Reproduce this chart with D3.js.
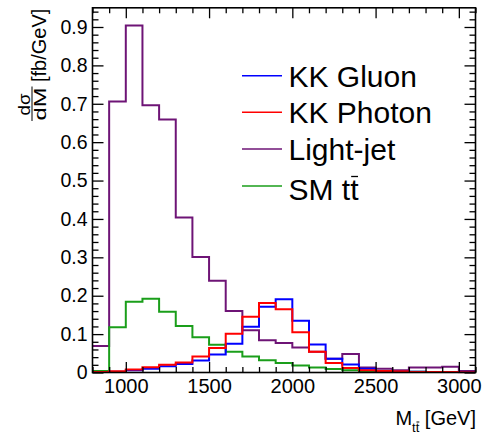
<!DOCTYPE html>
<html>
<head>
<meta charset="utf-8">
<title>Mtt distribution</title>
<script src="https://cdn.jsdelivr.net/npm/d3@7"></script>
<style>
* { margin: 0; padding: 0; }
body { background: #fff; }
svg { display: block; }
text { font-family: "Liberation Sans", Arial, Helvetica, sans-serif; fill: #000; }
.axis path.domain { display: none; }
.axis line { stroke: #000; stroke-width: 1.3; }
</style>
</head>
<body>
<div id="chart"></div>
<script>
// bin edges of the histograms [GeV]
var binEdges = [800, 900, 1000, 1100, 1200, 1300, 1400, 1500, 1600, 1700, 1800, 1900,
                2000, 2100, 2200, 2300, 2400, 2500, 2600, 2700, 2800, 2900, 3000, 3100];

// dsigma/dM [fb/GeV], one value per bin
var lightJet = [0.069, 0.706, 0.904, 0.696, 0.659, 0.404, 0.301, 0.239, 0.160, 0.110, 0.084, 0.077,
                0.065, 0.054, 0.036, 0.048, 0.013, 0.010, 0.006, 0.013, 0.013, 0.015, 0.004];
var smTT     = [0.004, 0.118, 0.184, 0.192, 0.158, 0.121, 0.092, 0.072, 0.054, 0.042, 0.032, 0.025,
                0.018, 0.013, 0.009, 0.006, 0.004, 0.003, 0.002, 0.002, 0.001, 0.001, 0.001];
var kkGluon  = [0.001, 0.002, 0.006, 0.010, 0.016, 0.022, 0.031, 0.047, 0.075, 0.119, 0.171, 0.191,
                0.135, 0.073, 0.036, 0.021, 0.010, 0.004, 0.003, 0.002, 0.001, 0.001, 0.001];
var kkPhoton = [0.001, 0.003, 0.008, 0.014, 0.020, 0.026, 0.042, 0.064, 0.101, 0.145, 0.181, 0.165,
                0.105, 0.054, 0.025, 0.012, 0.006, 0.004, 0.003, 0.001, 0.001, 0.001, 0.0005];

var seriesNames = ["Light-jet", "SM tt", "KK Gluon", "KK Photon"];   // drawing order
var legendOrder = ["KK Gluon", "KK Photon", "Light-jet", "SM tt"];

var xMajorTicks = [1000, 1500, 2000, 2500, 3000];
var yMajorTicks = [0, 0.1, 0.2, 0.3, 0.4, 0.5, 0.6, 0.7, 0.8, 0.9];

window.onload = function() {
  var W = 485, H = 437;
  var left = 92.5, right = 475.5, top = 7.8, bottom = 372.5;

  var colors = {
    "KK Gluon": "#0000ff",
    "KK Photon": "#ff0000",
    "Light-jet": "#6e1476",
    "SM tt": "#1a9e1a"
  };
  var values = {
    "KK Gluon": kkGluon,
    "KK Photon": kkPhoton,
    "Light-jet": lightJet,
    "SM tt": smTT
  };

  var svg = d3.select("#chart").append("svg")
    .attr("width", W).attr("height", H);

  svg.append("rect").attr("width", W).attr("height", H).attr("fill", "#fff");

  var x = d3.scaleLinear().domain([800, 3100]).range([left, right]);
  var y = d3.scaleLinear().domain([0, 0.95]).range([bottom, top]);

  // minor tick positions come from the scale (every 100 GeV, every 0.02)
  var xMinor = d3.range(800, 3101, 100).filter(function(v) { return xMajorTicks.indexOf(v) == -1; });
  var yMinor = d3.range(0, 48).map(function(i) { return +(i * 0.02).toFixed(2); })
                 .filter(function(v) { return Math.abs(v * 10 - Math.round(v * 10)) > 1e-6; });

  // histograms
  var line = d3.line().x(function(d) { return x(d[0]); }).y(function(d) { return y(d[1]); });
  var plot = svg.append("g").attr("clip-path", "url(#clip)");
  svg.append("clipPath").attr("id", "clip").append("rect")
    .attr("x", left).attr("y", top).attr("width", right - left).attr("height", bottom - top + 1);

  seriesNames.forEach(function(name) {
    var pts = [];
    values[name].forEach(function(v, i) {
      pts.push([binEdges[i], v]);
      pts.push([binEdges[i + 1], v]);
    });
    plot.append("path")
      .attr("d", line(pts))
      .attr("fill", "none")
      .attr("stroke", colors[name])
      .attr("stroke-width", 2);
  });

  // axes, ticks inside on all four sides
  function fmtY(d) { return d == 0 ? "0" : d3.format(".1f")(d); }

  svg.append("g").attr("class", "axis")
    .attr("transform", "translate(0," + bottom + ")")
    .call(d3.axisBottom(x).tickValues(xMajorTicks).tickSize(-10.5).tickPadding(6).tickFormat(d3.format("d")))
    .call(function(g) { g.selectAll("text").attr("font-size", 20).attr("font-family", null); });
  svg.append("g").attr("class", "axis")
    .attr("transform", "translate(0," + bottom + ")")
    .call(d3.axisBottom(x).tickValues(xMinor).tickSize(-5.5).tickFormat(""));
  svg.append("g").attr("class", "axis")
    .attr("transform", "translate(0," + top + ")")
    .call(d3.axisTop(x).tickValues(xMajorTicks).tickSize(-10.5).tickFormat(""));
  svg.append("g").attr("class", "axis")
    .attr("transform", "translate(0," + top + ")")
    .call(d3.axisTop(x).tickValues(xMinor).tickSize(-5.5).tickFormat(""));

  svg.append("g").attr("class", "axis")
    .attr("transform", "translate(" + left + ",0)")
    .call(d3.axisLeft(y).tickValues(yMajorTicks).tickSize(-11).tickPadding(5).tickFormat(fmtY))
    .call(function(g) { g.selectAll("text").attr("font-size", 19.5).attr("font-family", null); });
  svg.append("g").attr("class", "axis")
    .attr("transform", "translate(" + left + ",0)")
    .call(d3.axisLeft(y).tickValues(yMinor).tickSize(-6).tickFormat(""));
  svg.append("g").attr("class", "axis")
    .attr("transform", "translate(" + right + ",0)")
    .call(d3.axisRight(y).tickValues(yMajorTicks).tickSize(-11).tickFormat(""));
  svg.append("g").attr("class", "axis")
    .attr("transform", "translate(" + right + ",0)")
    .call(d3.axisRight(y).tickValues(yMinor).tickSize(-6).tickFormat(""));

  // frame
  svg.append("rect")
    .attr("x", left).attr("y", top)
    .attr("width", right - left).attr("height", bottom - top)
    .attr("fill", "none").attr("stroke", "#000").attr("stroke-width", 1.6);

  // legend
  var legY = [75.7, 112.3, 149, 186];
  var legBase = [86.7, 123.3, 160, 200];
  legendOrder.forEach(function(name, i) {
    svg.append("line")
      .attr("x1", 242).attr("x2", 282)
      .attr("y1", legY[i]).attr("y2", legY[i])
      .attr("stroke", colors[name]).attr("stroke-width", 1.4);
    var t = svg.append("text")
      .attr("x", 288.5).attr("y", legBase[i])
      .attr("font-size", 30)
      .text(name);
    if (name == "SM tt") {
      var ext = t.node().getExtentOfChar(4);
      svg.append("line")
        .attr("x1", ext.x + 1).attr("x2", ext.x + ext.width - 0.5)
        .attr("y1", 176.5).attr("y2", 176.5)
        .attr("stroke", "#000").attr("stroke-width", 1.3);
    }
  });

  // x title: M_{t tbar} [GeV]
  var xt = svg.append("text")
    .attr("x", 476).attr("y", 425)
    .attr("text-anchor", "end")
    .attr("font-size", 20);
  xt.append("tspan").text("M");
  xt.append("tspan").attr("font-size", 13).attr("dy", 7).text("tt");
  xt.append("tspan").attr("dy", -7).text(" [GeV]");
  var ex = xt.node().getExtentOfChar(2);
  svg.append("line")
    .attr("x1", ex.x + 0.8).attr("x2", ex.x + ex.width)
    .attr("y1", 422).attr("y2", 422)
    .attr("stroke", "#000").attr("stroke-width", 1);

  // y title: dsigma/dM [fb/GeV]
  svg.append("text")
    .attr("transform", "translate(45.5,82) rotate(-90)")
    .attr("font-size", 20)
    .text("[fb/GeV]");
  svg.append("text")
    .attr("transform", "translate(30,104.5) rotate(-90)")
    .attr("text-anchor", "middle")
    .attr("font-size", 17)
    .attr("textLength", 22).attr("lengthAdjust", "spacingAndGlyphs")
    .text("dσ");
  svg.append("text")
    .attr("transform", "translate(45.5,104) rotate(-90)")
    .attr("text-anchor", "middle")
    .attr("font-size", 17)
    .attr("textLength", 33).attr("lengthAdjust", "spacingAndGlyphs")
    .text("dM");
  svg.append("line")
    .attr("x1", 32).attr("x2", 32)
    .attr("y1", 86.5).attr("y2", 121)
    .attr("stroke", "#000").attr("stroke-width", 1);
};
</script>
</body>
</html>
